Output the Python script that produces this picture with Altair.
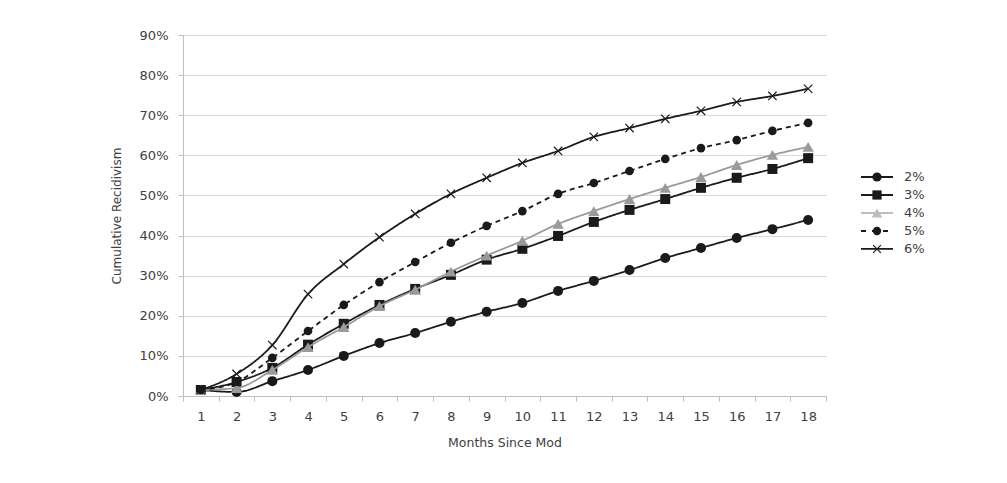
import altair as alt
import pandas as pd

months = list(range(1, 19))
series = ["2%", "3%", "4%", "5%", "6%"]
s2 = [1.5, 1.0, 3.7, 6.5, 10.0, 13.2, 15.7, 18.5, 21.0, 23.2, 26.2, 28.7, 31.4, 34.4, 36.9, 39.4, 41.6, 43.9]
s3 = [1.5, 3.5, 7.0, 12.8, 18.0, 22.7, 26.7, 30.2, 34.0, 36.7, 39.9, 43.4, 46.4, 49.1, 51.9, 54.4, 56.6, 59.3]
s4 = [1.5, 2.0, 6.5, 12.2, 17.2, 22.4, 26.5, 31.0, 35.0, 38.7, 42.9, 46.1, 49.1, 51.9, 54.6, 57.6, 60.1, 62.1]
s5 = [1.5, 3.5, 9.5, 16.2, 22.7, 28.4, 33.4, 38.2, 42.4, 46.1, 50.4, 53.1, 56.1, 59.1, 61.8, 63.8, 66.1, 68.1]
s6 = [1.5, 5.5, 12.7, 25.4, 32.9, 39.6, 45.4, 50.4, 54.4, 58.1, 61.1, 64.6, 66.8, 69.1, 71.1, 73.3, 74.8, 76.6]
y_ticks = [0, 0.1, 0.2, 0.3, 0.4, 0.5, 0.6, 0.7, 0.8, 0.9]

rows = []
for name, vals in zip(series, [s2, s3, s4, s5, s6]):
    for m, v in zip(months, vals):
        rows.append({"month": m, "value": v / 100.0, "series": name})
df = pd.DataFrame(rows)
leg = pd.DataFrame({"series": series, "idx": list(range(len(series)))})

FONT = "DejaVu Sans"
TXT = "#404040"
BLACK = "#1a1a1a"
GRAY = "#9a9a9a"
LGRAY = "#bdbdbd"
X_PATH = "M-1,-1L1,1M-1,1L1,-1"

# per-series styles
styles = {
    "2%": dict(line=BLACK, dash=[1, 0], shape="circle", fill=BLACK, stroke=BLACK, size=100, sw=0,
               lline=BLACK, ldash=[1, 0], lfill=BLACK, lsize=85),
    "3%": dict(line=BLACK, dash=[1, 0], shape="square", fill=BLACK, stroke=BLACK, size=100, sw=0,
               lline=BLACK, ldash=[1, 0], lfill=BLACK, lsize=85),
    "4%": dict(line=GRAY, dash=[1, 0], shape="triangle-up", fill=GRAY, stroke=GRAY, size=130, sw=0,
               lline=LGRAY, ldash=[1, 0], lfill=LGRAY, lsize=110),
    "5%": dict(line=BLACK, dash=[5, 4], shape="circle", fill=BLACK, stroke=BLACK, size=75, sw=0,
               lline=BLACK, ldash=[5, 6], lfill=BLACK, lsize=70),
    "6%": dict(line=BLACK, dash=[1, 0], shape=X_PATH, fill="transparent", stroke=BLACK, size=70, sw=1.2,
               lline=BLACK, ldash=[1, 0], lfill="transparent", lsize=60),
}

x_enc = alt.X("month:O", title="Months Since Mod",
              scale=alt.Scale(paddingInner=0, paddingOuter=0),
              axis=alt.Axis(labelAngle=0, tickBand="extent", tickSize=5, tickColor="#bfbfbf",
                            domainColor="#bfbfbf", labelPadding=9, titlePadding=13,
                            labelFontSize=13, titleFontSize=12.5, labelColor=TXT, titleColor=TXT,
                            labelFont=FONT, titleFont=FONT, titleFontWeight="normal", grid=False))
y_enc = alt.Y("value:Q", title="Cumulative Recidivism",
              scale=alt.Scale(domain=[0, 0.9], nice=False),
              axis=alt.Axis(values=y_ticks, format=".0%", tickSize=5, tickColor="#bfbfbf",
                            domainColor="#bfbfbf", gridColor="#d9d9d9", labelPadding=10,
                            titlePadding=16, labelFontSize=13, titleFontSize=12,
                            labelColor=TXT, titleColor=TXT, labelFont=FONT, titleFont=FONT,
                            titleFontWeight="normal"))

layers = []
for i, name in enumerate(series):
    st = styles[name]
    base = alt.Chart(df).transform_filter(alt.datum.series == name)
    enc_x = x_enc if i == 0 else alt.X("month:O")
    enc_y = y_enc if i == 0 else alt.Y("value:Q")
    layers.append(base.mark_line(interpolate="monotone", strokeWidth=1.8, color=st["line"],
                                 strokeDash=st["dash"]).encode(x=enc_x, y=enc_y))
    layers.append(base.mark_point(opacity=1, shape=st["shape"], fill=st["fill"], stroke=st["stroke"],
                                  size=st["size"], strokeWidth=st["sw"], filled=False).encode(
        x=alt.X("month:O"), y=alt.Y("value:Q")))

main = alt.layer(*layers).properties(width=643, height=361)

ly = alt.Y("idx:Q", scale=alt.Scale(domain=[-7.89, 12.17], reverse=True, nice=False, zero=False), axis=None)
leg_layers = []
for name in series:
    st = styles[name]
    lb = alt.Chart(leg).transform_filter(alt.datum.series == name)
    leg_layers.append(lb.mark_rule(strokeWidth=1.8, color=st["lline"], strokeDash=st["ldash"]).encode(
        x=alt.value(0), x2=alt.value(32), y=ly))
    leg_layers.append(lb.mark_point(opacity=1, shape=st["shape"], fill=st["lfill"], stroke=st["lline"],
                                    size=st["lsize"], strokeWidth=st["sw"], filled=False).encode(
        x=alt.value(16), y=ly))
leg_layers.append(alt.Chart(leg).mark_text(align="left", baseline="middle", fontSize=13, font=FONT,
                                           color=TXT).encode(x=alt.value(43), y=ly, text="series:N"))
legend = alt.layer(*leg_layers).properties(width=80, height=361)

chart = alt.hconcat(main, legend, spacing=33).properties(
    padding={"left": 102, "top": 21, "right": 5, "bottom": 5},
    background="white",
).configure_view(stroke=None)

chart.save("out.html", embed_options={"renderer": "svg", "actions": False})
